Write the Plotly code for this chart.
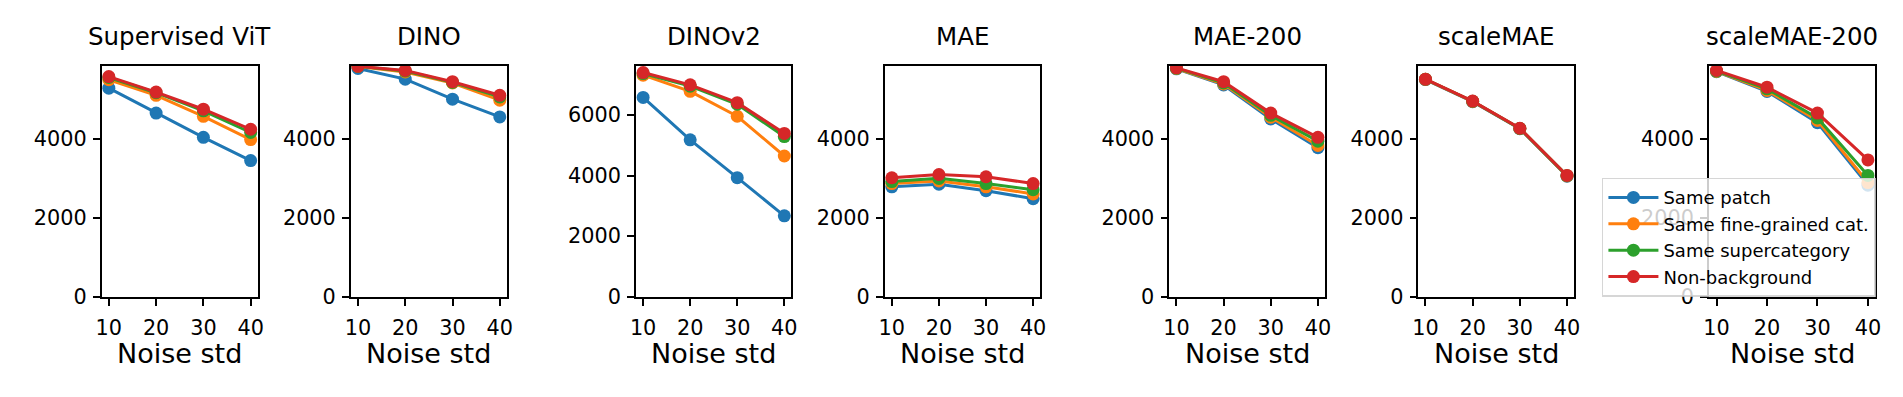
import plotly.graph_objects as go
from plotly.subplots import make_subplots

noise_std = [10, 20, 30, 40]

series_names = ["Same patch", "Same fine-grained cat.", "Same supercategory", "Non-background"]
series_colors = ["#1f77b4", "#ff7f0e", "#2ca02c", "#d62728"]

model_titles = ["Supervised ViT", "DINO", "DINOv2", "MAE", "MAE-200", "scaleMAE", "scaleMAE-200"]

# one row per series: patch, fine-grained, supercategory, non-background
supervised_vit = [
    [5276, 4646, 4033, 3444],
    [5489, 5096, 4564, 3975],
    [5546, 5162, 4704, 4155],
    [5570, 5178, 4744, 4237],
]
dino = [
    [5775, 5505, 4998, 4548],
    [5825, 5685, 5407, 4973],
    [5828, 5710, 5423, 5055],
    [5830, 5726, 5440, 5096],
]
dinov2 = [
    [6579, 5180, 3930, 2670],
    [7316, 6782, 5959, 4646],
    [7369, 6953, 6355, 5287],
    [7401, 6995, 6408, 5393],
]
mae = [
    [2781, 2847, 2683, 2479],
    [2863, 2928, 2781, 2601],
    [2912, 2994, 2863, 2708],
    [3010, 3092, 3035, 2863],
]
mae_200 = [
    [5767, 5358, 4499, 3771],
    [5775, 5382, 4540, 3828],
    [5783, 5407, 4589, 3935],
    [5791, 5440, 4646, 4033],
]
scale_mae = [
    [5495, 4935, 4250, 3050],
    [5500, 4942, 4256, 3058],
    [5502, 4946, 4259, 3063],
    [5505, 4949, 4262, 3068],
]
scale_mae_200 = [
    [5693, 5194, 4401, 2822],
    [5700, 5219, 4458, 2888],
    [5710, 5260, 4524, 3068],
    [5726, 5301, 4646, 3460],
]
models = [supervised_vit, dino, dinov2, mae, mae_200, scale_mae, scale_mae_200]

y_tops = [5850, 5850, 7634, 5850, 5850, 5850, 5850]
y_ticks = [[0, 2000, 4000]] * 2 + [[0, 2000, 4000, 6000]] + [[0, 2000, 4000]] * 4

W, H = 1903, 397
# axes boxes in pixels (left, right), shared top/bottom
boxes = [(88.3, 245.3), (339, 496), (626, 782.3), (876.3, 1032.7),
         (1162.7, 1319.3), (1413.3, 1570), (1705.7, 1873.3)]
top_px, bot_px = 59.3, 297.7

font = "DejaVu Sans"
fig = make_subplots(rows=1, cols=7)

for i, data in enumerate(models):
    for j, vals in enumerate(data):
        fig.add_trace(go.Scatter(
            x=noise_std, y=vals, mode="lines+markers",
            name=series_names[j],
            line=dict(color=series_colors[j], width=3),
            marker=dict(color=series_colors[j], size=13),
            showlegend=(i == 6),
        ), row=1, col=i + 1)

ydom = [1 - bot_px / H, 1 - top_px / H]
axis_common = dict(
    showline=True, mirror=True, linecolor="black", linewidth=1.7,
    ticks="outside", ticklen=7, tickwidth=1.7, tickcolor="black",
    showgrid=False, zeroline=False,
    tickfont=dict(family=font, size=20.8, color="black"),
)
annotations = []
for i in range(7):
    l, r = boxes[i]
    suffix = "" if i == 0 else str(i + 1)
    fig.layout["xaxis" + suffix].update(
        domain=[l / W, r / W], range=[8.5, 41.5], tickvals=noise_std,
        ticklabelstandoff=4, **axis_common)
    fig.layout["yaxis" + suffix].update(
        domain=ydom, range=[0, y_tops[i]], tickvals=y_ticks[i],
        ticklabelstandoff=2, **axis_common)
    cx = (l + r) / 2 / W
    annotations.append(dict(
        text=model_titles[i], x=cx, y=1 - 29 / H, xref="paper", yref="paper",
        xanchor="center", yanchor="middle", showarrow=False,
        font=dict(family=font, size=24.5, color="black")))
    annotations.append(dict(
        text="Noise std", x=cx, y=1 - 356 / H, xref="paper", yref="paper",
        xanchor="center", yanchor="middle", showarrow=False,
        font=dict(family=font, size=27, color="black")))

fig.update_layout(
    width=W, height=H,
    margin=dict(l=0, r=0, t=0, b=0),
    paper_bgcolor="white", plot_bgcolor="white",
    annotations=annotations,
    legend=dict(
        x=1598 / W, y=1 - 175 / H, xanchor="left", yanchor="top",
        bgcolor="rgba(255,255,255,0.8)", bordercolor="rgba(204,204,204,0.8)", borderwidth=1.5,
        font=dict(family=font, size=18, color="black"),
        tracegroupgap=0, itemwidth=50,
    ),
)

fig.write_html("out.html")
